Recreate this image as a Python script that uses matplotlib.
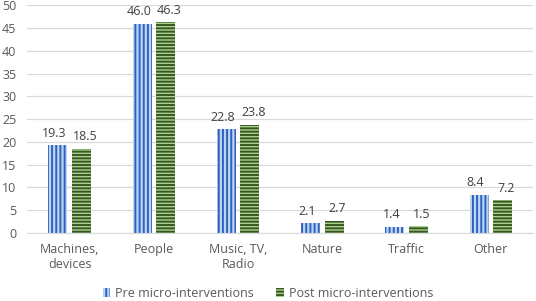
import matplotlib
matplotlib.use("Agg")
import matplotlib.pyplot as plt
import numpy as np

categories = ["Machines,\ndevices", "People", "Music, TV,\nRadio", "Nature", "Traffic", "Other"]
pre = [19.3, 46.0, 22.8, 2.1, 1.4, 8.4]
post = [18.5, 46.3, 23.8, 2.7, 1.5, 7.2]
series_names = ["Pre micro-interventions", "Post micro-interventions"]

plt.rcParams['font.family'] = ['Open Sans', 'DejaVu Sans']
plt.rcParams['hatch.linewidth'] = 1.4

fig = plt.figure(figsize=(5.36, 3.01), dpi=100)
ax = fig.add_axes([0.0513, 0.226, 0.943, 0.756])

x = np.arange(len(categories))
w = 0.225
off = 0.14
b1 = ax.bar(x - off, pre, w, color="#BDD7EE", edgecolor="#2F5FC4", hatch="||||", linewidth=0,
            label=series_names[0], zorder=2)
b2 = ax.bar(x + off, post, w, color="#A9D18E", edgecolor="#385723", hatch="-----", linewidth=0,
            label=series_names[1], zorder=2)

for bars, vals, dx in ((b1, pre, -0.04), (b2, post, 0.04)):
    for r, v in zip(bars, vals):
        ax.text(r.get_x() + r.get_width() / 2 + dx, v + 1.2, f"{v:.1f}", ha="center", va="bottom",
                fontsize=9, color="#404040")

ax.set_xlim(-0.5, len(categories) - 0.5)
ax.set_ylim(0, 50)
ax.set_yticks(range(0, 51, 5))
ax.set_xticks(x)
ax.set_xticklabels(categories, fontsize=9, color="#595959", linespacing=1.25)
ax.tick_params(axis="y", labelsize=9, labelcolor="#595959", length=0, pad=8)
ax.tick_params(axis="x", length=0, pad=7)
ax.yaxis.grid(True, color="#D9D9D9", linewidth=0.9, zorder=0)
ax.set_axisbelow(True)
for s in ("top", "right", "left"):
    ax.spines[s].set_visible(False)
ax.spines["bottom"].set_color("#D9D9D9")

fig.legend(handles=[b1, b2], loc="center", bbox_to_anchor=(0.5, 0.025), ncol=2, frameon=False,
           fontsize=9, labelcolor="#595959", handlelength=0.6, handleheight=0.7,
           columnspacing=1.8, handletextpad=0.4, borderpad=0)

fig.savefig("out.png", dpi=100)
